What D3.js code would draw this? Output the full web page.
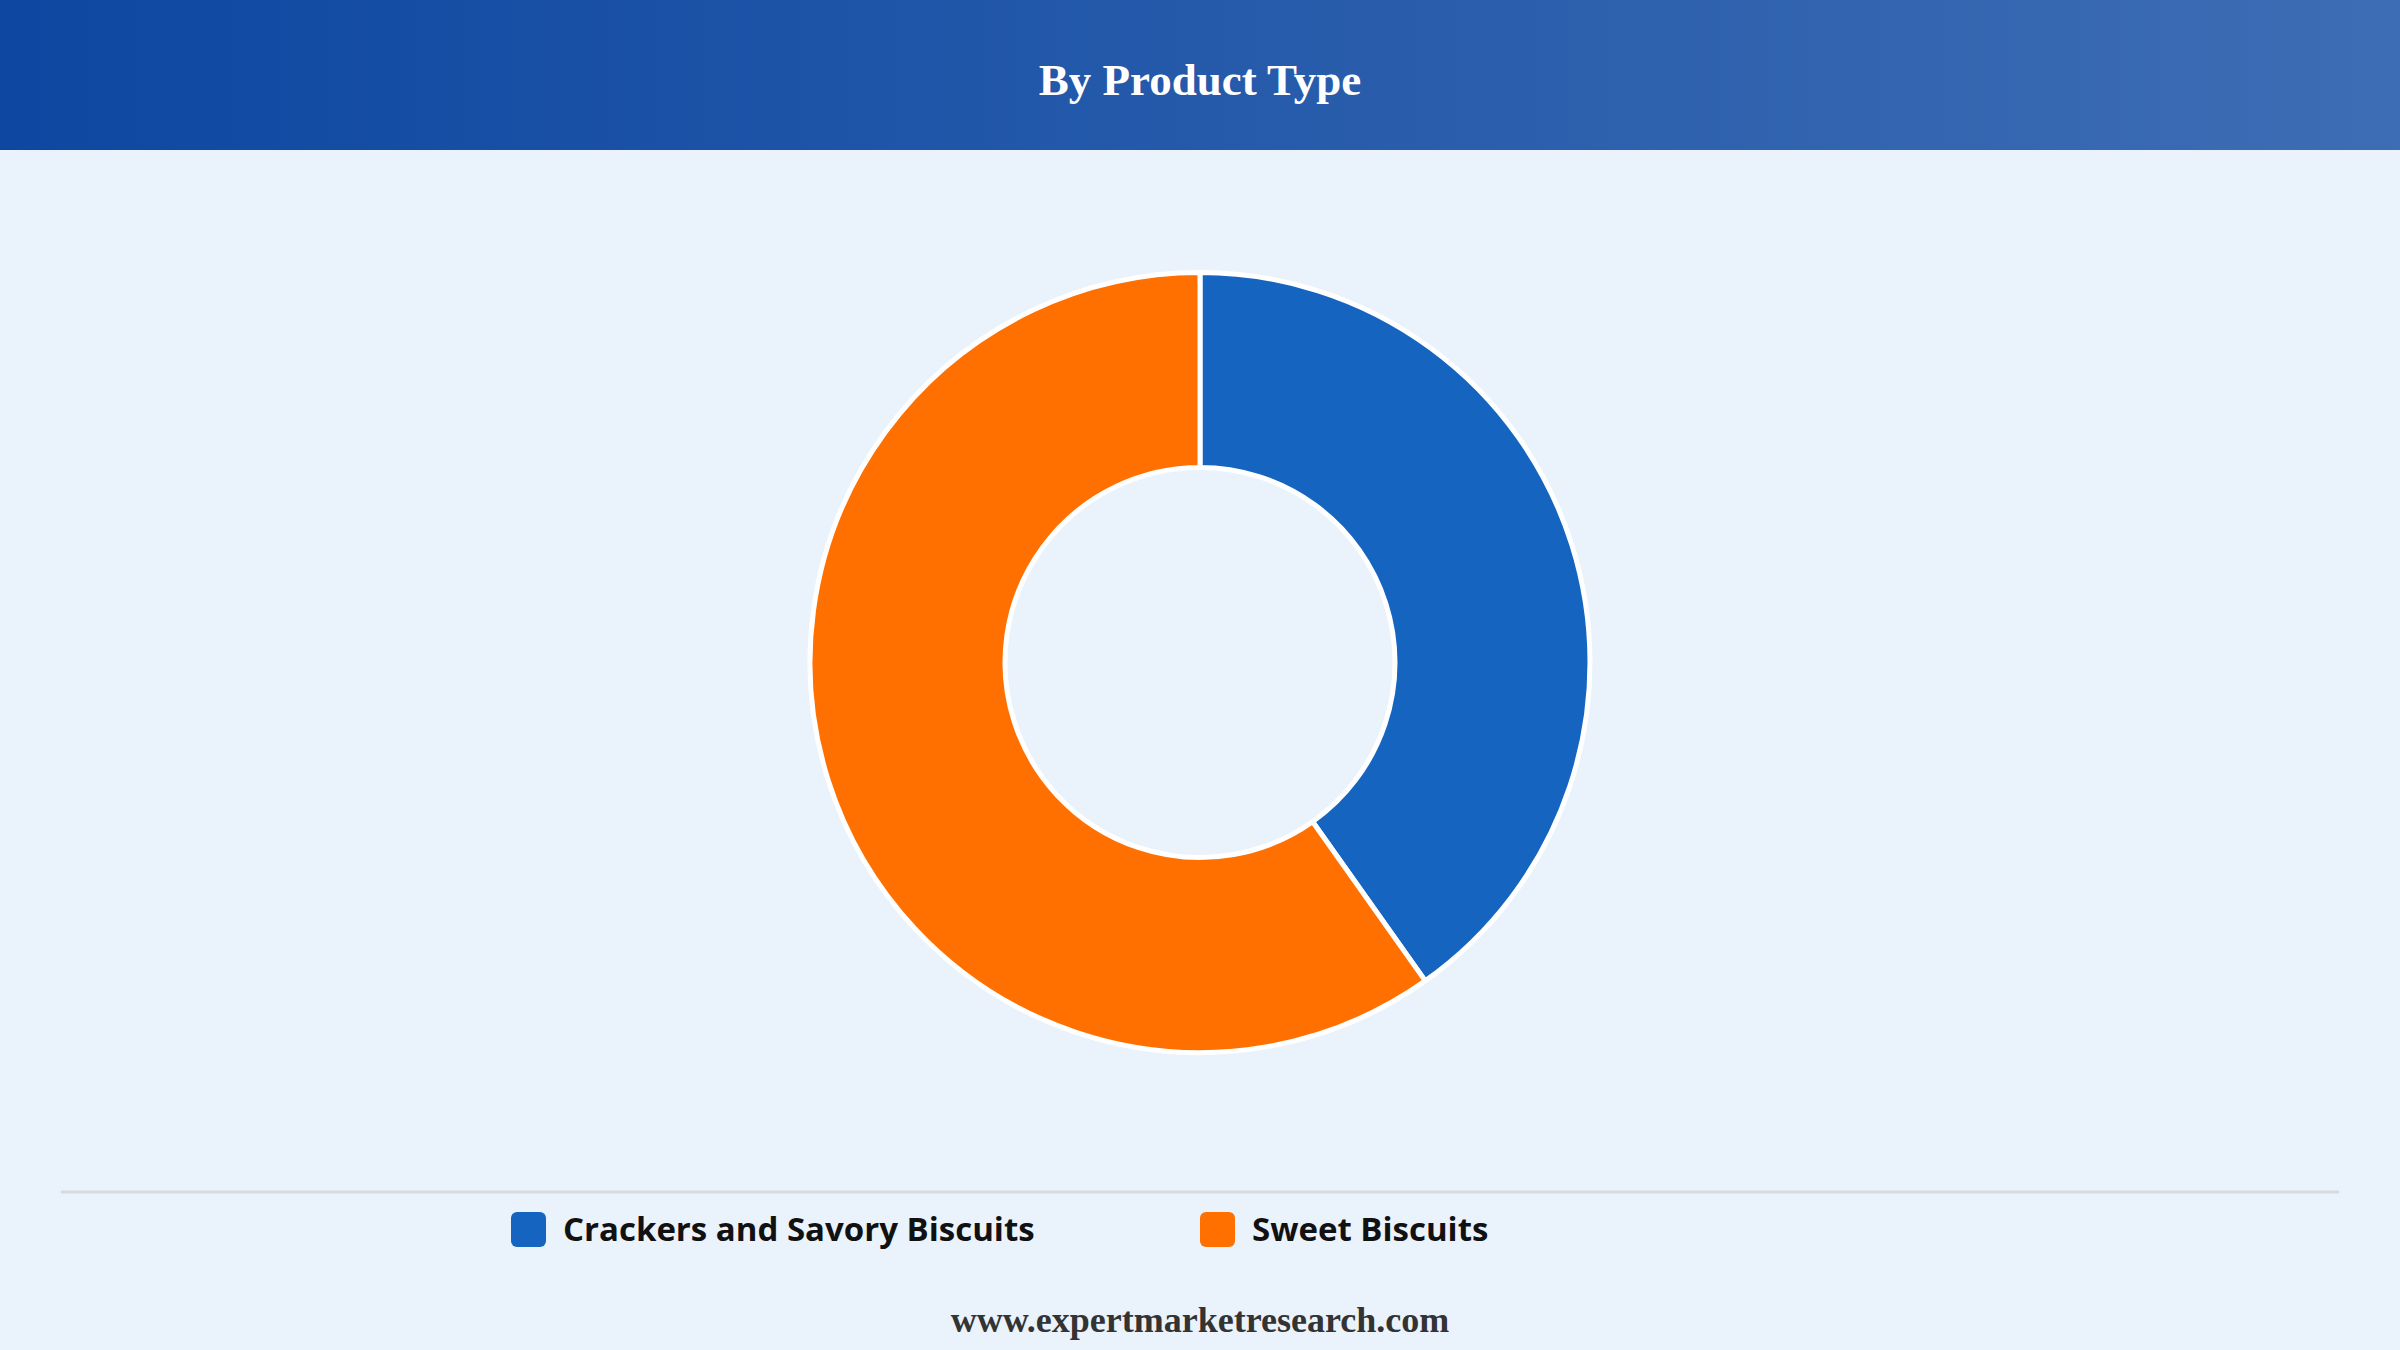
<!DOCTYPE html>
<html>
<head>
<meta charset="utf-8">
<script src="https://cdn.jsdelivr.net/npm/d3@7"></script>
<style>
  html, body { margin: 0; padding: 0; background: #eaf2fb; }
  svg { display: block; }
</style>
</head>
<body>
<div id="chart"></div>
<script>
// data
const categories = ['Crackers and Savory Biscuits', 'Sweet Biscuits'];
const shares = [40.2, 59.8];
const colors = ['#1565c0', '#ff7000'];
const title = 'By Product Type';
const source = 'www.expertmarketresearch.com';

const width = 2400, height = 1350;
const svg = d3.select('#chart')
    .append('svg')
    .attr('width', width)
    .attr('height', height);

// header band
const defs = svg.append('defs');
const grad = defs.append('linearGradient')
    .attr('id', 'hdr')
    .attr('x1', '0%').attr('x2', '100%')
    .attr('y1', '0%').attr('y2', '0%');
grad.append('stop').attr('offset', '0%').attr('stop-color', '#0d47a1');
grad.append('stop').attr('offset', '100%').attr('stop-color', '#3d6db4');

svg.append('rect')
    .attr('width', width)
    .attr('height', height)
    .attr('fill', '#eaf2fb');

svg.append('rect')
    .attr('width', width)
    .attr('height', 150)
    .attr('fill', 'url(#hdr)');

svg.append('text')
    .attr('x', width / 2)
    .attr('y', 95)
    .attr('text-anchor', 'middle')
    .attr('font-family', '"Liberation Serif", "Times New Roman", serif')
    .attr('font-weight', 'bold')
    .attr('font-size', 45)
    .attr('fill', '#ffffff')
    .text(title);

// donut
const color = d3.scaleOrdinal().domain(categories).range(colors);
const pie = d3.pie().sort(null).value(d => d.value);
const arc = d3.arc().innerRadius(195).outerRadius(390);

const rows = categories.map((c, i) => ({name: c, value: shares[i]}));

const g = svg.append('g')
    .attr('transform', 'translate(1200,662.5)');

g.selectAll('path')
    .data(pie(rows))
    .enter()
    .append('path')
    .attr('d', arc)
    .attr('fill', d => color(d.data.name))
    .attr('stroke', '#ffffff')
    .attr('stroke-width', 5)
    .attr('stroke-linejoin', 'round');

// divider + legend
svg.append('line')
    .attr('x1', 61).attr('x2', 2339)
    .attr('y1', 1192).attr('y2', 1192)
    .attr('stroke', '#d6d9de')
    .attr('stroke-width', 3);

const legendX = d3.scalePoint()
    .domain(categories)
    .range([511, 1200]);

const item = svg.selectAll('.legend-item')
    .data(categories)
    .enter()
    .append('g')
    .attr('class', 'legend-item')
    .attr('transform', d => 'translate(' + legendX(d) + ',1212)');

item.append('rect')
    .attr('width', 35)
    .attr('height', 35)
    .attr('rx', 6)
    .attr('fill', d => color(d));

item.append('text')
    .attr('x', 52)
    .attr('y', 29)
    .attr('font-family', '"Open Sans", "Noto Sans", sans-serif')
    .attr('font-weight', 'bold')
    .attr('font-size', 33)
    .attr('fill', '#111111')
    .text(d => d);

// source line
svg.append('text')
    .attr('x', width / 2)
    .attr('y', 1332)
    .attr('text-anchor', 'middle')
    .attr('font-family', '"Liberation Serif", "Times New Roman", serif')
    .attr('font-weight', 'bold')
    .attr('font-size', 36)
    .attr('fill', '#333333')
    .text(source);
</script>
</body>
</html>
